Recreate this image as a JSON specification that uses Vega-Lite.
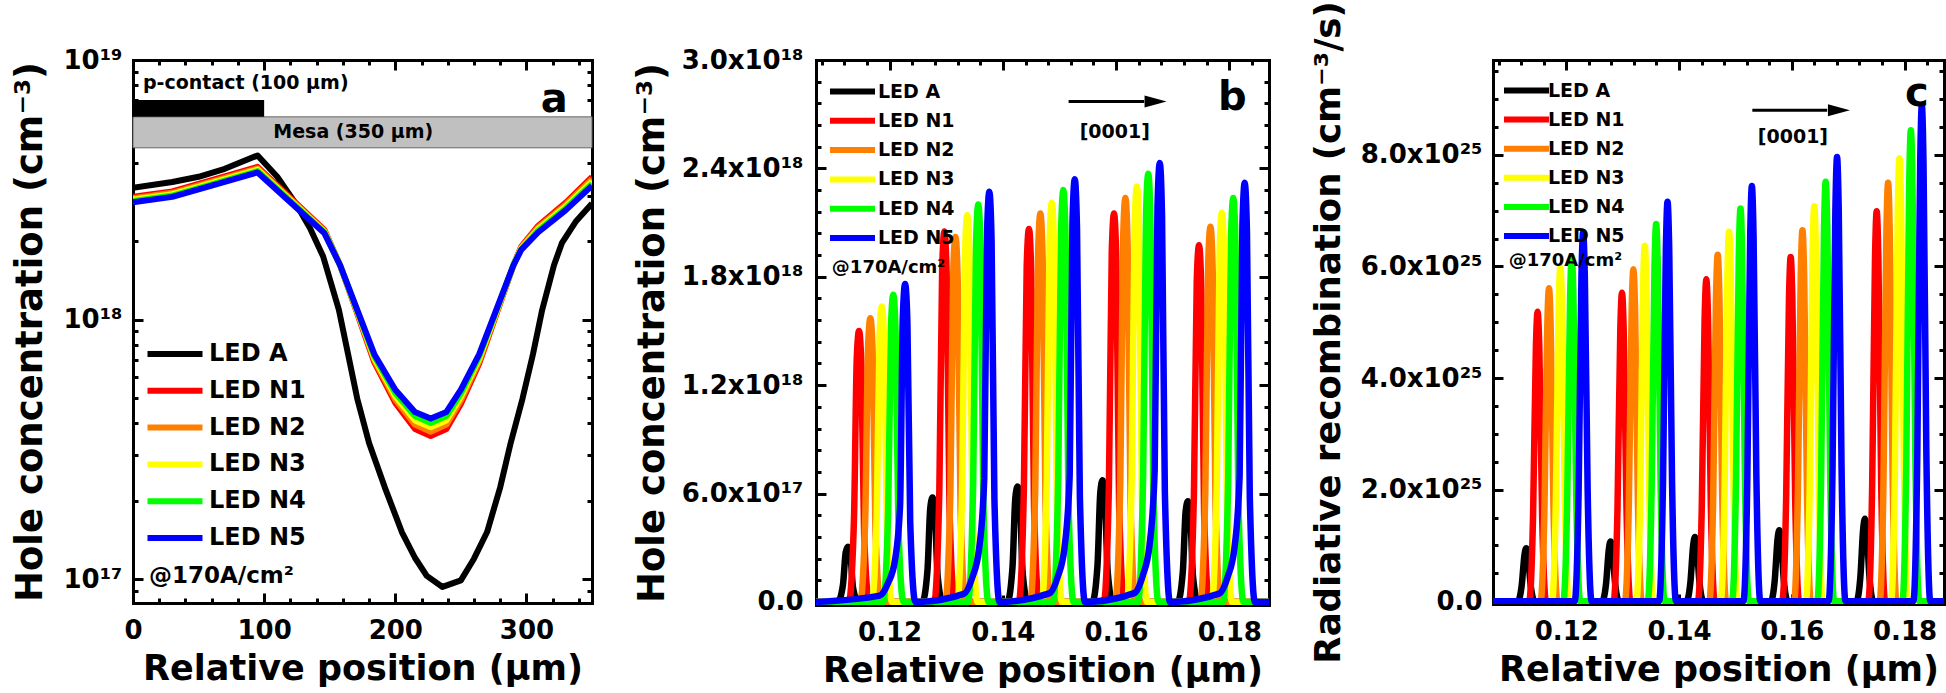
{
"$schema": "https://vega.github.io/schema/vega-lite/v6.json",
"padding": {"left": 10, "top": 0, "right": 0, "bottom": 0},
"background": "white",
"config": {
  "font": "DejaVu Sans",
  "view": {"stroke": null},
  "axis": {"grid": false, "domainColor": "black", "domainWidth": 3, "domainCap": "square", "tickColor": "black", "tickWidth": 3, "labelFont": "DejaVu Sans", "labelFontSize": 26, "labelFontWeight": "bold", "labelColor": "black", "titleFont": "DejaVu Sans", "titleFontWeight": "bold", "titleColor": "black", "labelOverlap": false, "labelFlush": false, "zindex": 1, "titleLimit": 1000},
  "legend": {"labelFont": "DejaVu Sans", "labelFontWeight": "bold", "labelColor": "black", "padding": 0, "symbolStrokeWidth": 6, "symbolType": "M-5,0H5", "orient": "none"}
},
"datasets": {
"a": [
{"s":"LED A","x":0,"y":3.22e18},{"s":"LED A","x":30,"y":3.39e18},{"s":"LED A","x":50,"y":3.55e18},{"s":"LED A","x":70,"y":3.81e18},{"s":"LED A","x":95,"y":4.29e18},{"s":"LED A","x":110,"y":3.55e18},{"s":"LED A","x":125,"y":2.75e18},{"s":"LED A","x":135,"y":2.25e18},{"s":"LED A","x":145,"y":1.75e18},{"s":"LED A","x":157,"y":1.09e18},{"s":"LED A","x":164,"y":7.36e17},{"s":"LED A","x":171,"y":4.96e17},{"s":"LED A","x":180,"y":3.35e17},{"s":"LED A","x":192,"y":2.26e17},{"s":"LED A","x":205,"y":1.52e17},{"s":"LED A","x":215,"y":1.21e17},{"s":"LED A","x":224,"y":1.03e17},{"s":"LED A","x":236,"y":9.34e16},{"s":"LED A","x":250,"y":9.9e16},{"s":"LED A","x":260,"y":1.2e17},{"s":"LED A","x":270,"y":1.52e17},{"s":"LED A","x":280,"y":2.26e17},{"s":"LED A","x":288,"y":3.35e17},{"s":"LED A","x":297,"y":4.96e17},{"s":"LED A","x":305,"y":7.36e17},{"s":"LED A","x":312,"y":1.09e18},{"s":"LED A","x":321,"y":1.62e18},{"s":"LED A","x":327,"y":1.97e18},{"s":"LED A","x":338,"y":2.4e18},{"s":"LED A","x":350,"y":2.8e18},
{"s":"LED N1","x":0,"y":2.972e18},{"s":"LED N1","x":30,"y":3.119e18},{"s":"LED N1","x":60,"y":3.444e18},{"s":"LED N1","x":95,"y":3.875e18},{"s":"LED N1","x":146,"y":2.215e18},{"s":"LED N1","x":158,"y":1.616e18},{"s":"LED N1","x":171,"y":1.057e18},{"s":"LED N1","x":184,"y":6.84e17},{"s":"LED N1","x":200,"y":4.78e17},{"s":"LED N1","x":215,"y":3.79e17},{"s":"LED N1","x":227,"y":3.56e17},{"s":"LED N1","x":239,"y":3.79e17},{"s":"LED N1","x":250,"y":4.73e17},{"s":"LED N1","x":264,"y":6.77e17},{"s":"LED N1","x":277,"y":1.046e18},{"s":"LED N1","x":290,"y":1.616e18},{"s":"LED N1","x":296,"y":1.911e18},{"s":"LED N1","x":309,"y":2.3e18},{"s":"LED N1","x":330,"y":2.825e18},{"s":"LED N1","x":350,"y":3.542e18},
{"s":"LED N2","x":0,"y":2.935e18},{"s":"LED N2","x":30,"y":3.08e18},{"s":"LED N2","x":60,"y":3.401e18},{"s":"LED N2","x":95,"y":3.827e18},{"s":"LED N2","x":146,"y":2.197e18},{"s":"LED N2","x":158,"y":1.616e18},{"s":"LED N2","x":171,"y":1.065e18},{"s":"LED N2","x":184,"y":6.97e17},{"s":"LED N2","x":200,"y":4.92e17},{"s":"LED N2","x":215,"y":3.94e17},{"s":"LED N2","x":227,"y":3.7e17},{"s":"LED N2","x":239,"y":3.94e17},{"s":"LED N2","x":250,"y":4.88e17},{"s":"LED N2","x":264,"y":6.91e17},{"s":"LED N2","x":277,"y":1.057e18},{"s":"LED N2","x":290,"y":1.616e18},{"s":"LED N2","x":296,"y":1.896e18},{"s":"LED N2","x":309,"y":2.268e18},{"s":"LED N2","x":330,"y":2.777e18},{"s":"LED N2","x":350,"y":3.474e18},
{"s":"LED N3","x":0,"y":2.901e18},{"s":"LED N3","x":30,"y":3.044e18},{"s":"LED N3","x":60,"y":3.362e18},{"s":"LED N3","x":95,"y":3.782e18},{"s":"LED N3","x":146,"y":2.182e18},{"s":"LED N3","x":158,"y":1.616e18},{"s":"LED N3","x":171,"y":1.074e18},{"s":"LED N3","x":184,"y":7.1e17},{"s":"LED N3","x":200,"y":5.06e17},{"s":"LED N3","x":215,"y":4.09e17},{"s":"LED N3","x":227,"y":3.85e17},{"s":"LED N3","x":239,"y":4.09e17},{"s":"LED N3","x":250,"y":5.04e17},{"s":"LED N3","x":264,"y":7.06e17},{"s":"LED N3","x":277,"y":1.068e18},{"s":"LED N3","x":290,"y":1.616e18},{"s":"LED N3","x":296,"y":1.883e18},{"s":"LED N3","x":309,"y":2.235e18},{"s":"LED N3","x":330,"y":2.73e18},{"s":"LED N3","x":350,"y":3.408e18},
{"s":"LED N4","x":0,"y":2.864e18},{"s":"LED N4","x":30,"y":3.006e18},{"s":"LED N4","x":60,"y":3.319e18},{"s":"LED N4","x":95,"y":3.734e18},{"s":"LED N4","x":146,"y":2.165e18},{"s":"LED N4","x":158,"y":1.616e18},{"s":"LED N4","x":171,"y":1.081e18},{"s":"LED N4","x":184,"y":7.23e17},{"s":"LED N4","x":200,"y":5.21e17},{"s":"LED N4","x":215,"y":4.25e17},{"s":"LED N4","x":227,"y":4.0e17},{"s":"LED N4","x":239,"y":4.25e17},{"s":"LED N4","x":250,"y":5.2e17},{"s":"LED N4","x":264,"y":7.21e17},{"s":"LED N4","x":277,"y":1.079e18},{"s":"LED N4","x":290,"y":1.616e18},{"s":"LED N4","x":296,"y":1.868e18},{"s":"LED N4","x":309,"y":2.203e18},{"s":"LED N4","x":330,"y":2.685e18},{"s":"LED N4","x":350,"y":3.342e18},
{"s":"LED N5","x":0,"y":2.83e18},{"s":"LED N5","x":30,"y":2.97e18},{"s":"LED N5","x":60,"y":3.28e18},{"s":"LED N5","x":95,"y":3.69e18},{"s":"LED N5","x":146,"y":2.15e18},{"s":"LED N5","x":158,"y":1.616e18},{"s":"LED N5","x":171,"y":1.09e18},{"s":"LED N5","x":184,"y":7.36e17},{"s":"LED N5","x":200,"y":5.37e17},{"s":"LED N5","x":215,"y":4.41e17},{"s":"LED N5","x":227,"y":4.16e17},{"s":"LED N5","x":239,"y":4.41e17},{"s":"LED N5","x":250,"y":5.37e17},{"s":"LED N5","x":264,"y":7.36e17},{"s":"LED N5","x":277,"y":1.09e18},{"s":"LED N5","x":290,"y":1.616e18},{"s":"LED N5","x":296,"y":1.855e18},{"s":"LED N5","x":309,"y":2.17e18},{"s":"LED N5","x":330,"y":2.64e18},{"s":"LED N5","x":350,"y":3.28e18}
],
"b": [
{"s":"LED A","x":0.107,"y":0},
{"s":"LED A","x":0.11085,"y":0},{"s":"LED A","x":0.11175,"y":0.092e18},{"s":"LED A","x":0.11225,"y":0.275e18},{"s":"LED A","x":0.11265,"y":0.306e18},{"s":"LED A","x":0.11305,"y":0.269e18},{"s":"LED A","x":0.11355,"y":0.077e18},{"s":"LED A","x":0.11445,"y":0},
{"s":"LED A","x":0.12578,"y":0},{"s":"LED A","x":0.12668,"y":0.173e18},{"s":"LED A","x":0.12718,"y":0.52e18},{"s":"LED A","x":0.12758,"y":0.578e18},{"s":"LED A","x":0.12798,"y":0.509e18},{"s":"LED A","x":0.12848,"y":0.145e18},{"s":"LED A","x":0.12938,"y":0},
{"s":"LED A","x":0.1408,"y":0},{"s":"LED A","x":0.1417,"y":0.192e18},{"s":"LED A","x":0.1422,"y":0.575e18},{"s":"LED A","x":0.1426,"y":0.639e18},{"s":"LED A","x":0.143,"y":0.562e18},{"s":"LED A","x":0.1435,"y":0.16e18},{"s":"LED A","x":0.1444,"y":0},
{"s":"LED A","x":0.15581,"y":0},{"s":"LED A","x":0.15671,"y":0.202e18},{"s":"LED A","x":0.15721,"y":0.607e18},{"s":"LED A","x":0.15761,"y":0.674e18},{"s":"LED A","x":0.15801,"y":0.593e18},{"s":"LED A","x":0.15851,"y":0.169e18},{"s":"LED A","x":0.15941,"y":0},
{"s":"LED A","x":0.17088,"y":0},{"s":"LED A","x":0.17178,"y":0.167e18},{"s":"LED A","x":0.17228,"y":0.502e18},{"s":"LED A","x":0.17268,"y":0.558e18},{"s":"LED A","x":0.17308,"y":0.491e18},{"s":"LED A","x":0.17358,"y":0.14e18},{"s":"LED A","x":0.17448,"y":0},
{"s":"LED A","x":0.187,"y":0},
{"s":"LED N1","x":0.107,"y":0},
{"s":"LED N1","x":0.1128,"y":0},{"s":"LED N1","x":0.1137,"y":0.45e18},{"s":"LED N1","x":0.1142,"y":1.35e18},{"s":"LED N1","x":0.1146,"y":1.5e18},{"s":"LED N1","x":0.115,"y":1.32e18},{"s":"LED N1","x":0.1155,"y":0.375e18},{"s":"LED N1","x":0.1164,"y":0},
{"s":"LED N1","x":0.12788,"y":0},{"s":"LED N1","x":0.12878,"y":0.615e18},{"s":"LED N1","x":0.12928,"y":1.845e18},{"s":"LED N1","x":0.12968,"y":2.05e18},{"s":"LED N1","x":0.13008,"y":1.804e18},{"s":"LED N1","x":0.13058,"y":0.513e18},{"s":"LED N1","x":0.13148,"y":0},
{"s":"LED N1","x":0.14281,"y":0},{"s":"LED N1","x":0.14371,"y":0.62e18},{"s":"LED N1","x":0.14421,"y":1.859e18},{"s":"LED N1","x":0.14461,"y":2.065e18},{"s":"LED N1","x":0.14501,"y":1.817e18},{"s":"LED N1","x":0.14551,"y":0.516e18},{"s":"LED N1","x":0.14641,"y":0},
{"s":"LED N1","x":0.15783,"y":0},{"s":"LED N1","x":0.15873,"y":0.645e18},{"s":"LED N1","x":0.15923,"y":1.935e18},{"s":"LED N1","x":0.15963,"y":2.15e18},{"s":"LED N1","x":0.16003,"y":1.892e18},{"s":"LED N1","x":0.16053,"y":0.538e18},{"s":"LED N1","x":0.16143,"y":0},
{"s":"LED N1","x":0.17284,"y":0},{"s":"LED N1","x":0.17374,"y":0.592e18},{"s":"LED N1","x":0.17424,"y":1.777e18},{"s":"LED N1","x":0.17464,"y":1.974e18},{"s":"LED N1","x":0.17504,"y":1.737e18},{"s":"LED N1","x":0.17554,"y":0.494e18},{"s":"LED N1","x":0.17644,"y":0},
{"s":"LED N1","x":0.187,"y":0},
{"s":"LED N2","x":0.107,"y":0},
{"s":"LED N2","x":0.1148,"y":0},{"s":"LED N2","x":0.1157,"y":0.471e18},{"s":"LED N2","x":0.1162,"y":1.413e18},{"s":"LED N2","x":0.1166,"y":1.57e18},{"s":"LED N2","x":0.117,"y":1.382e18},{"s":"LED N2","x":0.1175,"y":0.393e18},{"s":"LED N2","x":0.1184,"y":0},
{"s":"LED N2","x":0.12983,"y":0},{"s":"LED N2","x":0.13073,"y":0.606e18},{"s":"LED N2","x":0.13123,"y":1.818e18},{"s":"LED N2","x":0.13163,"y":2.02e18},{"s":"LED N2","x":0.13203,"y":1.778e18},{"s":"LED N2","x":0.13253,"y":0.505e18},{"s":"LED N2","x":0.13343,"y":0},
{"s":"LED N2","x":0.14483,"y":0},{"s":"LED N2","x":0.14573,"y":0.645e18},{"s":"LED N2","x":0.14623,"y":1.935e18},{"s":"LED N2","x":0.14663,"y":2.15e18},{"s":"LED N2","x":0.14703,"y":1.892e18},{"s":"LED N2","x":0.14753,"y":0.538e18},{"s":"LED N2","x":0.14843,"y":0},
{"s":"LED N2","x":0.15984,"y":0},{"s":"LED N2","x":0.16074,"y":0.671e18},{"s":"LED N2","x":0.16124,"y":2.012e18},{"s":"LED N2","x":0.16164,"y":2.236e18},{"s":"LED N2","x":0.16204,"y":1.968e18},{"s":"LED N2","x":0.16254,"y":0.559e18},{"s":"LED N2","x":0.16344,"y":0},
{"s":"LED N2","x":0.17486,"y":0},{"s":"LED N2","x":0.17576,"y":0.623e18},{"s":"LED N2","x":0.17626,"y":1.869e18},{"s":"LED N2","x":0.17666,"y":2.077e18},{"s":"LED N2","x":0.17706,"y":1.828e18},{"s":"LED N2","x":0.17756,"y":0.519e18},{"s":"LED N2","x":0.17846,"y":0},
{"s":"LED N2","x":0.187,"y":0},
{"s":"LED N3","x":0.107,"y":0},
{"s":"LED N3","x":0.11683,"y":0},{"s":"LED N3","x":0.11773,"y":0.491e18},{"s":"LED N3","x":0.11823,"y":1.472e18},{"s":"LED N3","x":0.11863,"y":1.636e18},{"s":"LED N3","x":0.11903,"y":1.44e18},{"s":"LED N3","x":0.11953,"y":0.409e18},{"s":"LED N3","x":0.12043,"y":0},
{"s":"LED N3","x":0.13192,"y":0},{"s":"LED N3","x":0.13282,"y":0.642e18},{"s":"LED N3","x":0.13332,"y":1.926e18},{"s":"LED N3","x":0.13372,"y":2.14e18},{"s":"LED N3","x":0.13412,"y":1.883e18},{"s":"LED N3","x":0.13462,"y":0.535e18},{"s":"LED N3","x":0.13552,"y":0},
{"s":"LED N3","x":0.14685,"y":0},{"s":"LED N3","x":0.14775,"y":0.663e18},{"s":"LED N3","x":0.14825,"y":1.989e18},{"s":"LED N3","x":0.14865,"y":2.21e18},{"s":"LED N3","x":0.14905,"y":1.945e18},{"s":"LED N3","x":0.14955,"y":0.553e18},{"s":"LED N3","x":0.15045,"y":0},
{"s":"LED N3","x":0.16186,"y":0},{"s":"LED N3","x":0.16276,"y":0.69e18},{"s":"LED N3","x":0.16326,"y":2.07e18},{"s":"LED N3","x":0.16366,"y":2.3e18},{"s":"LED N3","x":0.16406,"y":2.024e18},{"s":"LED N3","x":0.16456,"y":0.575e18},{"s":"LED N3","x":0.16546,"y":0},
{"s":"LED N3","x":0.17688,"y":0},{"s":"LED N3","x":0.17778,"y":0.647e18},{"s":"LED N3","x":0.17828,"y":1.94e18},{"s":"LED N3","x":0.17868,"y":2.155e18},{"s":"LED N3","x":0.17908,"y":1.896e18},{"s":"LED N3","x":0.17958,"y":0.539e18},{"s":"LED N3","x":0.18048,"y":0},
{"s":"LED N3","x":0.187,"y":0},
{"s":"LED N4","x":0.107,"y":0},
{"s":"LED N4","x":0.11885,"y":0},{"s":"LED N4","x":0.11975,"y":0.51e18},{"s":"LED N4","x":0.12025,"y":1.53e18},{"s":"LED N4","x":0.12065,"y":1.7e18},{"s":"LED N4","x":0.12105,"y":1.496e18},{"s":"LED N4","x":0.12155,"y":0.425e18},{"s":"LED N4","x":0.12245,"y":0},
{"s":"LED N4","x":0.13386,"y":0},{"s":"LED N4","x":0.13476,"y":0.66e18},{"s":"LED N4","x":0.13526,"y":1.98e18},{"s":"LED N4","x":0.13566,"y":2.2e18},{"s":"LED N4","x":0.13606,"y":1.936e18},{"s":"LED N4","x":0.13656,"y":0.55e18},{"s":"LED N4","x":0.13746,"y":0},
{"s":"LED N4","x":0.14888,"y":0},{"s":"LED N4","x":0.14978,"y":0.684e18},{"s":"LED N4","x":0.15028,"y":2.052e18},{"s":"LED N4","x":0.15068,"y":2.28e18},{"s":"LED N4","x":0.15108,"y":2.006e18},{"s":"LED N4","x":0.15158,"y":0.57e18},{"s":"LED N4","x":0.15248,"y":0},
{"s":"LED N4","x":0.16388,"y":0},{"s":"LED N4","x":0.16478,"y":0.711e18},{"s":"LED N4","x":0.16528,"y":2.133e18},{"s":"LED N4","x":0.16568,"y":2.37e18},{"s":"LED N4","x":0.16608,"y":2.086e18},{"s":"LED N4","x":0.16658,"y":0.593e18},{"s":"LED N4","x":0.16748,"y":0},
{"s":"LED N4","x":0.17889,"y":0},{"s":"LED N4","x":0.17979,"y":0.671e18},{"s":"LED N4","x":0.18029,"y":2.012e18},{"s":"LED N4","x":0.18069,"y":2.236e18},{"s":"LED N4","x":0.18109,"y":1.968e18},{"s":"LED N4","x":0.18159,"y":0.559e18},{"s":"LED N4","x":0.18249,"y":0},
{"s":"LED N4","x":0.187,"y":0},
{"s":"LED N5","x":0.107,"y":0},
{"s":"LED N5","x":0.11824,"y":0.035e18},{"s":"LED N5","x":0.11974,"y":0.106e18},{"s":"LED N5","x":0.12094,"y":0.229e18},{"s":"LED N5","x":0.12184,"y":0.528e18},{"s":"LED N5","x":0.12234,"y":1.584e18},{"s":"LED N5","x":0.12274,"y":1.76e18},{"s":"LED N5","x":0.12314,"y":1.549e18},{"s":"LED N5","x":0.12364,"y":0.44e18},{"s":"LED N5","x":0.12454,"y":0},
{"s":"LED N5","x":0.13311,"y":0.045e18},{"s":"LED N5","x":0.13461,"y":0.136e18},{"s":"LED N5","x":0.13581,"y":0.295e18},{"s":"LED N5","x":0.13671,"y":0.681e18},{"s":"LED N5","x":0.13721,"y":2.043e18},{"s":"LED N5","x":0.13761,"y":2.27e18},{"s":"LED N5","x":0.13801,"y":1.998e18},{"s":"LED N5","x":0.13851,"y":0.568e18},{"s":"LED N5","x":0.13941,"y":0},
{"s":"LED N5","x":0.1482,"y":0.047e18},{"s":"LED N5","x":0.1497,"y":0.14e18},{"s":"LED N5","x":0.1509,"y":0.304e18},{"s":"LED N5","x":0.1518,"y":0.702e18},{"s":"LED N5","x":0.1523,"y":2.106e18},{"s":"LED N5","x":0.1527,"y":2.34e18},{"s":"LED N5","x":0.1531,"y":2.059e18},{"s":"LED N5","x":0.1536,"y":0.585e18},{"s":"LED N5","x":0.1545,"y":0},
{"s":"LED N5","x":0.16321,"y":0.049e18},{"s":"LED N5","x":0.16471,"y":0.146e18},{"s":"LED N5","x":0.16591,"y":0.316e18},{"s":"LED N5","x":0.16681,"y":0.729e18},{"s":"LED N5","x":0.16731,"y":2.187e18},{"s":"LED N5","x":0.16771,"y":2.43e18},{"s":"LED N5","x":0.16811,"y":2.138e18},{"s":"LED N5","x":0.16861,"y":0.608e18},{"s":"LED N5","x":0.16951,"y":0},
{"s":"LED N5","x":0.17821,"y":0.046e18},{"s":"LED N5","x":0.17971,"y":0.139e18},{"s":"LED N5","x":0.18091,"y":0.302e18},{"s":"LED N5","x":0.18181,"y":0.696e18},{"s":"LED N5","x":0.18231,"y":2.088e18},{"s":"LED N5","x":0.18271,"y":2.32e18},{"s":"LED N5","x":0.18311,"y":2.042e18},{"s":"LED N5","x":0.18361,"y":0.58e18},{"s":"LED N5","x":0.18451,"y":0},
{"s":"LED N5","x":0.187,"y":0}
],
"c": [
{"s":"LED A","x":0.107,"y":0},
{"s":"LED A","x":0.11139,"y":0},{"s":"LED A","x":0.11209,"y":0.284e25},{"s":"LED A","x":0.11259,"y":0.834e25},{"s":"LED A","x":0.11289,"y":0.948e25},{"s":"LED A","x":0.11319,"y":0.834e25},{"s":"LED A","x":0.11369,"y":0.284e25},{"s":"LED A","x":0.11439,"y":0},
{"s":"LED A","x":0.12636,"y":0},{"s":"LED A","x":0.12706,"y":0.321e25},{"s":"LED A","x":0.12756,"y":0.942e25},{"s":"LED A","x":0.12786,"y":1.07e25},{"s":"LED A","x":0.12816,"y":0.942e25},{"s":"LED A","x":0.12866,"y":0.321e25},{"s":"LED A","x":0.12936,"y":0},
{"s":"LED A","x":0.14132,"y":0},{"s":"LED A","x":0.14202,"y":0.345e25},{"s":"LED A","x":0.14252,"y":1.012e25},{"s":"LED A","x":0.14282,"y":1.15e25},{"s":"LED A","x":0.14312,"y":1.012e25},{"s":"LED A","x":0.14362,"y":0.345e25},{"s":"LED A","x":0.14432,"y":0},
{"s":"LED A","x":0.15628,"y":0},{"s":"LED A","x":0.15698,"y":0.381e25},{"s":"LED A","x":0.15748,"y":1.118e25},{"s":"LED A","x":0.15778,"y":1.27e25},{"s":"LED A","x":0.15808,"y":1.118e25},{"s":"LED A","x":0.15858,"y":0.381e25},{"s":"LED A","x":0.15928,"y":0},
{"s":"LED A","x":0.17147,"y":0},{"s":"LED A","x":0.17217,"y":0.444e25},{"s":"LED A","x":0.17267,"y":1.302e25},{"s":"LED A","x":0.17297,"y":1.48e25},{"s":"LED A","x":0.17327,"y":1.302e25},{"s":"LED A","x":0.17377,"y":0.444e25},{"s":"LED A","x":0.17447,"y":0},
{"s":"LED A","x":0.187,"y":0},
{"s":"LED N1","x":0.107,"y":0},
{"s":"LED N1","x":0.11341,"y":0},{"s":"LED N1","x":0.11411,"y":1.557e25},{"s":"LED N1","x":0.11461,"y":4.567e25},{"s":"LED N1","x":0.11491,"y":5.19e25},{"s":"LED N1","x":0.11521,"y":4.567e25},{"s":"LED N1","x":0.11571,"y":1.557e25},{"s":"LED N1","x":0.11641,"y":0},
{"s":"LED N1","x":0.12838,"y":0},{"s":"LED N1","x":0.12908,"y":1.659e25},{"s":"LED N1","x":0.12958,"y":4.866e25},{"s":"LED N1","x":0.12988,"y":5.53e25},{"s":"LED N1","x":0.13018,"y":4.866e25},{"s":"LED N1","x":0.13068,"y":1.659e25},{"s":"LED N1","x":0.13138,"y":0},
{"s":"LED N1","x":0.14334,"y":0},{"s":"LED N1","x":0.14404,"y":1.731e25},{"s":"LED N1","x":0.14454,"y":5.078e25},{"s":"LED N1","x":0.14484,"y":5.77e25},{"s":"LED N1","x":0.14514,"y":5.078e25},{"s":"LED N1","x":0.14564,"y":1.731e25},{"s":"LED N1","x":0.14634,"y":0},
{"s":"LED N1","x":0.1583,"y":0},{"s":"LED N1","x":0.159,"y":1.851e25},{"s":"LED N1","x":0.1595,"y":5.43e25},{"s":"LED N1","x":0.1598,"y":6.17e25},{"s":"LED N1","x":0.1601,"y":5.43e25},{"s":"LED N1","x":0.1606,"y":1.851e25},{"s":"LED N1","x":0.1613,"y":0},
{"s":"LED N1","x":0.17356,"y":0},{"s":"LED N1","x":0.17426,"y":2.097e25},{"s":"LED N1","x":0.17476,"y":6.151e25},{"s":"LED N1","x":0.17506,"y":6.99e25},{"s":"LED N1","x":0.17536,"y":6.151e25},{"s":"LED N1","x":0.17586,"y":2.097e25},{"s":"LED N1","x":0.17656,"y":0},
{"s":"LED N1","x":0.187,"y":0},
{"s":"LED N2","x":0.107,"y":0},
{"s":"LED N2","x":0.11543,"y":0},{"s":"LED N2","x":0.11613,"y":1.683e25},{"s":"LED N2","x":0.11663,"y":4.937e25},{"s":"LED N2","x":0.11693,"y":5.61e25},{"s":"LED N2","x":0.11723,"y":4.937e25},{"s":"LED N2","x":0.11773,"y":1.683e25},{"s":"LED N2","x":0.11843,"y":0},
{"s":"LED N2","x":0.1304,"y":0},{"s":"LED N2","x":0.1311,"y":1.785e25},{"s":"LED N2","x":0.1316,"y":5.236e25},{"s":"LED N2","x":0.1319,"y":5.95e25},{"s":"LED N2","x":0.1322,"y":5.236e25},{"s":"LED N2","x":0.1327,"y":1.785e25},{"s":"LED N2","x":0.1334,"y":0},
{"s":"LED N2","x":0.14536,"y":0},{"s":"LED N2","x":0.14606,"y":1.863e25},{"s":"LED N2","x":0.14656,"y":5.465e25},{"s":"LED N2","x":0.14686,"y":6.21e25},{"s":"LED N2","x":0.14716,"y":5.465e25},{"s":"LED N2","x":0.14766,"y":1.863e25},{"s":"LED N2","x":0.14836,"y":0},
{"s":"LED N2","x":0.16039,"y":0},{"s":"LED N2","x":0.16109,"y":1.995e25},{"s":"LED N2","x":0.16159,"y":5.852e25},{"s":"LED N2","x":0.16189,"y":6.65e25},{"s":"LED N2","x":0.16219,"y":5.852e25},{"s":"LED N2","x":0.16269,"y":1.995e25},{"s":"LED N2","x":0.16339,"y":0},
{"s":"LED N2","x":0.17558,"y":0},{"s":"LED N2","x":0.17628,"y":2.25e25},{"s":"LED N2","x":0.17678,"y":6.6e25},{"s":"LED N2","x":0.17708,"y":7.5e25},{"s":"LED N2","x":0.17738,"y":6.6e25},{"s":"LED N2","x":0.17788,"y":2.25e25},{"s":"LED N2","x":0.17858,"y":0},
{"s":"LED N2","x":0.187,"y":0},
{"s":"LED N3","x":0.107,"y":0},
{"s":"LED N3","x":0.11745,"y":0},{"s":"LED N3","x":0.11815,"y":1.797e25},{"s":"LED N3","x":0.11865,"y":5.271e25},{"s":"LED N3","x":0.11895,"y":5.99e25},{"s":"LED N3","x":0.11925,"y":5.271e25},{"s":"LED N3","x":0.11975,"y":1.797e25},{"s":"LED N3","x":0.12045,"y":0},
{"s":"LED N3","x":0.13242,"y":0},{"s":"LED N3","x":0.13312,"y":1.911e25},{"s":"LED N3","x":0.13362,"y":5.606e25},{"s":"LED N3","x":0.13392,"y":6.37e25},{"s":"LED N3","x":0.13422,"y":5.606e25},{"s":"LED N3","x":0.13472,"y":1.911e25},{"s":"LED N3","x":0.13542,"y":0},
{"s":"LED N3","x":0.14738,"y":0},{"s":"LED N3","x":0.14808,"y":1.986e25},{"s":"LED N3","x":0.14858,"y":5.826e25},{"s":"LED N3","x":0.14888,"y":6.62e25},{"s":"LED N3","x":0.14918,"y":5.826e25},{"s":"LED N3","x":0.14968,"y":1.986e25},{"s":"LED N3","x":0.15038,"y":0},
{"s":"LED N3","x":0.16249,"y":0},{"s":"LED N3","x":0.16319,"y":2.124e25},{"s":"LED N3","x":0.16369,"y":6.23e25},{"s":"LED N3","x":0.16399,"y":7.08e25},{"s":"LED N3","x":0.16429,"y":6.23e25},{"s":"LED N3","x":0.16479,"y":2.124e25},{"s":"LED N3","x":0.16549,"y":0},
{"s":"LED N3","x":0.1776,"y":0},{"s":"LED N3","x":0.1783,"y":2.382e25},{"s":"LED N3","x":0.1788,"y":6.987e25},{"s":"LED N3","x":0.1791,"y":7.94e25},{"s":"LED N3","x":0.1794,"y":6.987e25},{"s":"LED N3","x":0.1799,"y":2.382e25},{"s":"LED N3","x":0.1806,"y":0},
{"s":"LED N3","x":0.187,"y":0},
{"s":"LED N4","x":0.107,"y":0},
{"s":"LED N4","x":0.11947,"y":0},{"s":"LED N4","x":0.12017,"y":1.851e25},{"s":"LED N4","x":0.12067,"y":5.43e25},{"s":"LED N4","x":0.12097,"y":6.17e25},{"s":"LED N4","x":0.12127,"y":5.43e25},{"s":"LED N4","x":0.12177,"y":1.851e25},{"s":"LED N4","x":0.12247,"y":0},
{"s":"LED N4","x":0.13444,"y":0},{"s":"LED N4","x":0.13514,"y":2.028e25},{"s":"LED N4","x":0.13564,"y":5.949e25},{"s":"LED N4","x":0.13594,"y":6.76e25},{"s":"LED N4","x":0.13624,"y":5.949e25},{"s":"LED N4","x":0.13674,"y":2.028e25},{"s":"LED N4","x":0.13744,"y":0},
{"s":"LED N4","x":0.1494,"y":0},{"s":"LED N4","x":0.1501,"y":2.112e25},{"s":"LED N4","x":0.1506,"y":6.195e25},{"s":"LED N4","x":0.1509,"y":7.04e25},{"s":"LED N4","x":0.1512,"y":6.195e25},{"s":"LED N4","x":0.1517,"y":2.112e25},{"s":"LED N4","x":0.1524,"y":0},
{"s":"LED N4","x":0.16451,"y":0},{"s":"LED N4","x":0.16521,"y":2.256e25},{"s":"LED N4","x":0.16571,"y":6.618e25},{"s":"LED N4","x":0.16601,"y":7.52e25},{"s":"LED N4","x":0.16631,"y":6.618e25},{"s":"LED N4","x":0.16681,"y":2.256e25},{"s":"LED N4","x":0.16751,"y":0},
{"s":"LED N4","x":0.17962,"y":0},{"s":"LED N4","x":0.18032,"y":2.532e25},{"s":"LED N4","x":0.18082,"y":7.427e25},{"s":"LED N4","x":0.18112,"y":8.44e25},{"s":"LED N4","x":0.18142,"y":7.427e25},{"s":"LED N4","x":0.18192,"y":2.532e25},{"s":"LED N4","x":0.18262,"y":0},
{"s":"LED N4","x":0.187,"y":0},
{"s":"LED N5","x":0.107,"y":0},
{"s":"LED N5","x":0.12149,"y":0},{"s":"LED N5","x":0.12219,"y":1.983e25},{"s":"LED N5","x":0.12269,"y":5.817e25},{"s":"LED N5","x":0.12299,"y":6.61e25},{"s":"LED N5","x":0.12329,"y":5.817e25},{"s":"LED N5","x":0.12379,"y":1.983e25},{"s":"LED N5","x":0.12449,"y":0},
{"s":"LED N5","x":0.13646,"y":0},{"s":"LED N5","x":0.13716,"y":2.148e25},{"s":"LED N5","x":0.13766,"y":6.301e25},{"s":"LED N5","x":0.13796,"y":7.16e25},{"s":"LED N5","x":0.13826,"y":6.301e25},{"s":"LED N5","x":0.13876,"y":2.148e25},{"s":"LED N5","x":0.13946,"y":0},
{"s":"LED N5","x":0.15142,"y":0},{"s":"LED N5","x":0.15212,"y":2.232e25},{"s":"LED N5","x":0.15262,"y":6.547e25},{"s":"LED N5","x":0.15292,"y":7.44e25},{"s":"LED N5","x":0.15322,"y":6.547e25},{"s":"LED N5","x":0.15372,"y":2.232e25},{"s":"LED N5","x":0.15442,"y":0},
{"s":"LED N5","x":0.16653,"y":0},{"s":"LED N5","x":0.16723,"y":2.388e25},{"s":"LED N5","x":0.16773,"y":7.005e25},{"s":"LED N5","x":0.16803,"y":7.96e25},{"s":"LED N5","x":0.16833,"y":7.005e25},{"s":"LED N5","x":0.16883,"y":2.388e25},{"s":"LED N5","x":0.16953,"y":0},
{"s":"LED N5","x":0.18157,"y":0},{"s":"LED N5","x":0.18227,"y":2.667e25},{"s":"LED N5","x":0.18277,"y":7.823e25},{"s":"LED N5","x":0.18307,"y":8.89e25},{"s":"LED N5","x":0.18337,"y":7.823e25},{"s":"LED N5","x":0.18387,"y":2.667e25},{"s":"LED N5","x":0.18457,"y":0},
{"s":"LED N5","x":0.187,"y":0}
]
},
"spacing": 224,
"bounds": "flush",
"resolve": {"scale": {"x": "independent", "y": "independent", "color": "independent"}, "legend": {"color": "independent"}},
"hconcat": [
{
 "width": 459, "height": 543,
 "layer": [
  {"data": {"values": [{"x": 0, "x2": 350, "y": 4.59e18, "y2": 6.04e18}]},
   "mark": {"type": "rect", "fill": "#c0c0c0", "stroke": "#666666", "strokeWidth": 1},
   "encoding": {"x": {"field": "x", "type": "quantitative", "scale": {"domain": [0, 350]}, "axis": null}, "x2": {"field": "x2"},
     "y": {"field": "y", "type": "quantitative", "scale": {"type": "log", "domain": [8.1e16, 1e19]}, "axis": null}, "y2": {"field": "y2"}}},
  {"data": {"values": [{"x": 0, "x2": 100, "y": 6.04e18, "y2": 7.02e18}]},
   "mark": {"type": "rect", "fill": "black"},
   "encoding": {"x": {"field": "x", "type": "quantitative", "scale": {"domain": [0, 350]}, "axis": null}, "x2": {"field": "x2"},
     "y": {"field": "y", "type": "quantitative", "scale": {"type": "log", "domain": [8.1e16, 1e19]}, "axis": null}, "y2": {"field": "y2"}}},
  {"data": {"name": "a"},
   "mark": {"type": "line", "strokeWidth": 6, "clip": true, "strokeJoin": "round"},
   "encoding": {
     "x": {"field": "x", "type": "quantitative", "scale": {"domain": [0, 350]},
       "axis": {"orient": "bottom", "values": [0,20,40,60,80,100,120,140,160,180,200,220,240,260,280,300,320,340], "labelExpr": "datum.value % 100 === 0 ? datum.label : ''", "tickSize": {"condition": {"test": "datum.value % 100 === 0", "value": -10}, "value": -5}, "labelPadding": 24, "title": "Relative position (μm)", "titleFontSize": 35, "minExtent": 40, "maxExtent": 40, "titlePadding": 8}},
     "y": {"field": "y", "type": "quantitative", "scale": {"type": "log", "domain": [8.1e16, 1e19]},
       "axis": {"orient": "left", "values": [9e16,1e17,2e17,3e17,4e17,5e17,6e17,7e17,8e17,9e17,1e18,2e18,3e18,4e18,5e18,6e18,7e18,8e18,9e18,1e19], "labelExpr": "abs(log(datum.value)/LN10 - round(log(datum.value)/LN10)) < 0.01 ? ('10' + (round(log(datum.value)/LN10) == 17 ? '¹⁷' : round(log(datum.value)/LN10) == 18 ? '¹⁸' : '¹⁹')) : ''", "tickSize": {"condition": {"test": "abs(log(datum.value)/LN10 - round(log(datum.value)/LN10)) < 0.01", "value": -10}, "value": -5}, "labelPadding": 21, "title": "Hole concentration (cm⁻³)", "titleFontSize": 37, "minExtent": 70, "maxExtent": 70, "titlePadding": 14}},
     "color": {"field": "s", "type": "nominal", "scale": {"domain": ["LED A","LED N1","LED N2","LED N3","LED N4","LED N5"], "range": ["#000000","#ff0000","#ff8000","#ffff00","#00ff00","#0000ff"]},
       "legend": {"orient": "none", "legendX": 16, "legendY": 282, "title": null, "symbolType": "M-5,0H5", "symbolSize": 121, "symbolStrokeWidth": 6, "symbolOffset": 14, "labelOffset": 22, "labelFontSize": 24, "rowPadding": 12.8}}}},
  {"data": {"values": [{"x": 7.6, "y": 8.13e18, "t": "p-contact (100 μm)"}, {"x": 107, "y": 5.28e18, "t": "Mesa (350 μm)"}]},
   "mark": {"type": "text", "align": "left", "baseline": "middle", "fontSize": 19, "fontWeight": "bold", "font": "DejaVu Sans", "color": "black"},
   "encoding": {"x": {"field": "x", "type": "quantitative", "scale": {"domain": [0, 350]}, "axis": null}, "y": {"field": "y", "type": "quantitative", "scale": {"type": "log", "domain": [8.1e16, 1e19]}, "axis": null}, "text": {"field": "t"}}},
  {"data": {"values": [{"x": 311, "y": 7.02e18, "t": "a"}]},
   "mark": {"type": "text", "align": "left", "baseline": "middle", "fontSize": 40, "fontWeight": "bold", "font": "DejaVu Sans", "color": "black"},
   "encoding": {"x": {"field": "x", "type": "quantitative", "scale": {"domain": [0, 350]}, "axis": null}, "y": {"field": "y", "type": "quantitative", "scale": {"type": "log", "domain": [8.1e16, 1e19]}, "axis": null}, "text": {"field": "t"}}},
  {"data": {"values": [{"x": 12.2, "y": 1.03e17, "t": "@170A/cm²"}]},
   "mark": {"type": "text", "align": "left", "baseline": "middle", "fontSize": 23, "fontWeight": "bold", "font": "DejaVu Sans", "color": "black"},
   "encoding": {"x": {"field": "x", "type": "quantitative", "scale": {"domain": [0, 350]}, "axis": null}, "y": {"field": "y", "type": "quantitative", "scale": {"type": "log", "domain": [8.1e16, 1e19]}, "axis": null}, "text": {"field": "t"}}},
  {"data": {"values": [{"x": 100, "y": 1e18}]},
   "mark": {"type": "point", "opacity": 0},
   "encoding": {
     "x": {"field": "x", "type": "quantitative", "scale": {"domain": [0, 350]},
       "axis": {"orient": "top", "values": [0,20,40,60,80,100,120,140,160,180,200,220,240,260,280,300,320,340], "labels": false, "tickSize": {"condition": {"test": "datum.value % 100 === 0", "value": -10}, "value": -5}, "title": null}},
     "y": {"field": "y", "type": "quantitative", "scale": {"type": "log", "domain": [8.1e16, 1e19]},
       "axis": {"orient": "right", "values": [9e16,1e17,2e17,3e17,4e17,5e17,6e17,7e17,8e17,9e17,1e18,2e18,3e18,4e18,5e18,6e18,7e18,8e18,9e18,1e19], "labels": false, "tickSize": {"condition": {"test": "abs(log(datum.value)/LN10 - round(log(datum.value)/LN10)) < 0.01", "value": -10}, "value": -5}, "title": null}}}}
 ],
 "resolve": {"axis": {"x": "independent", "y": "independent"}}
},
{
 "width": 453, "height": 545,
 "layer": [
  {"data": {"name": "b"},
   "mark": {"type": "line", "strokeWidth": 6.5, "clip": true, "strokeJoin": "round", "interpolate": "monotone"},
   "encoding": {
     "x": {"field": "x", "type": "quantitative", "scale": {"domain": [0.107, 0.187]},
       "axis": {"orient": "bottom", "values": [0.108,0.112,0.116,0.12,0.124,0.128,0.132,0.136,0.14,0.144,0.148,0.152,0.156,0.16,0.164,0.168,0.172,0.176,0.18,0.184], "labelExpr": "abs(datum.value*50 - round(datum.value*50)) < 0.01 ? format(datum.value, '.2f') : ''", "tickSize": {"condition": {"test": "abs(datum.value*50 - round(datum.value*50)) < 0.01", "value": -10}, "value": -5}, "labelPadding": 24, "title": "Relative position (μm)", "titleFontSize": 35, "minExtent": 40, "maxExtent": 40, "titlePadding": 8}},
     "y": {"field": "y", "type": "quantitative", "scale": {"domain": [-1.7e16, 3e18]},
       "axis": {"orient": "left", "values": [0,1.2e17,2.4e17,3.6e17,4.8e17,6e17,7.2e17,8.4e17,9.6e17,1.08e18,1.2e18,1.32e18,1.44e18,1.56e18,1.68e18,1.8e18,1.92e18,2.04e18,2.16e18,2.28e18,2.4e18,2.52e18,2.64e18,2.76e18,2.88e18,3e18], "labelExpr": "abs(datum.value/6e17 - round(datum.value/6e17)) < 0.01 ? (datum.value < 1e17 ? '0.0' : datum.value < 1e18 ? format(datum.value/1e17, '.1f') + 'x10¹⁷' : format(datum.value/1e18, '.1f') + 'x10¹⁸') : ''", "tickSize": {"condition": {"test": "abs(datum.value/6e17 - round(datum.value/6e17)) < 0.01", "value": -10}, "value": -5}, "labelPadding": 23, "title": "Hole concentration (cm⁻³)", "titleFontSize": 37, "minExtent": 130, "maxExtent": 130, "titlePadding": 15}},
     "color": {"field": "s", "type": "nominal", "scale": {"domain": ["LED A","LED N1","LED N2","LED N3","LED N4","LED N5"], "range": ["#000000","#ff0000","#ff8000","#ffff00","#00ff00","#0000ff"]},
       "legend": {"orient": "none", "legendX": 15, "legendY": 22, "title": null, "symbolType": "M-5,0H5", "symbolSize": 81, "symbolStrokeWidth": 6, "symbolOffset": 12, "labelOffset": 16, "labelFontSize": 19, "rowPadding": 4.3}}}},
  {"data": {"values": [{"x": 0.15161, "x2": 0.16496, "y": 2.77e18}]},
   "mark": {"type": "rule", "strokeWidth": 3, "color": "black"},
   "encoding": {"x": {"field": "x", "type": "quantitative", "scale": {"domain": [0.107, 0.187]}, "axis": null}, "x2": {"field": "x2"}, "y": {"field": "y", "type": "quantitative", "scale": {"domain": [-1.7e16, 3e18]}, "axis": null}}},
  {"data": {"values": [{"x": 0.16697, "y": 2.77e18}]},
   "mark": {"type": "point", "shape": "M-1,-0.55L1,0L-1,0.55Z", "size": 484, "filled": true, "color": "black", "opacity": 1},
   "encoding": {"x": {"field": "x", "type": "quantitative", "scale": {"domain": [0.107, 0.187]}, "axis": null}, "y": {"field": "y", "type": "quantitative", "scale": {"domain": [-1.7e16, 3e18]}, "axis": null}}},
  {"data": {"values": [{"x": 0.1098, "y": 1.85e18, "t": "@170A/cm²"}]},
   "mark": {"type": "text", "align": "left", "baseline": "middle", "fontSize": 18, "fontWeight": "bold", "font": "DejaVu Sans", "color": "black"},
   "encoding": {"x": {"field": "x", "type": "quantitative", "scale": {"domain": [0.107, 0.187]}, "axis": null}, "y": {"field": "y", "type": "quantitative", "scale": {"domain": [-1.7e16, 3e18]}, "axis": null}, "text": {"field": "t"}}},
  {"data": {"values": [{"x": 0.15356, "y": 2.6e18, "t": "[0001]"}]},
   "mark": {"type": "text", "align": "left", "baseline": "middle", "fontSize": 19, "fontWeight": "bold", "font": "DejaVu Sans", "color": "black"},
   "encoding": {"x": {"field": "x", "type": "quantitative", "scale": {"domain": [0.107, 0.187]}, "axis": null}, "y": {"field": "y", "type": "quantitative", "scale": {"domain": [-1.7e16, 3e18]}, "axis": null}, "text": {"field": "t"}}},
  {"data": {"values": [{"x": 0.17798, "y": 2.79e18, "t": "b"}]},
   "mark": {"type": "text", "align": "left", "baseline": "middle", "fontSize": 40, "fontWeight": "bold", "font": "DejaVu Sans", "color": "black"},
   "encoding": {"x": {"field": "x", "type": "quantitative", "scale": {"domain": [0.107, 0.187]}, "axis": null}, "y": {"field": "y", "type": "quantitative", "scale": {"domain": [-1.7e16, 3e18]}, "axis": null}, "text": {"field": "t"}}},
  {"data": {"values": [{"x": 0.15, "y": 1e18}]},
   "mark": {"type": "point", "opacity": 0},
   "encoding": {
     "x": {"field": "x", "type": "quantitative", "scale": {"domain": [0.107, 0.187]},
       "axis": {"orient": "top", "values": [0.108,0.112,0.116,0.12,0.124,0.128,0.132,0.136,0.14,0.144,0.148,0.152,0.156,0.16,0.164,0.168,0.172,0.176,0.18,0.184], "labels": false, "tickSize": {"condition": {"test": "abs(datum.value*50 - round(datum.value*50)) < 0.01", "value": -10}, "value": -5}, "title": null}},
     "y": {"field": "y", "type": "quantitative", "scale": {"domain": [-1.7e16, 3e18]},
       "axis": {"orient": "right", "values": [0,1.2e17,2.4e17,3.6e17,4.8e17,6e17,7.2e17,8.4e17,9.6e17,1.08e18,1.2e18,1.32e18,1.44e18,1.56e18,1.68e18,1.8e18,1.92e18,2.04e18,2.16e18,2.28e18,2.4e18,2.52e18,2.64e18,2.76e18,2.88e18,3e18], "labels": false, "tickSize": {"condition": {"test": "abs(datum.value/6e17 - round(datum.value/6e17)) < 0.01", "value": -10}, "value": -5}, "title": null}}}}
 ],
 "resolve": {"axis": {"x": "independent", "y": "independent"}}
},
{
 "width": 451, "height": 544,
 "layer": [
  {"data": {"name": "c"},
   "mark": {"type": "line", "strokeWidth": 6.5, "clip": true, "strokeJoin": "round", "interpolate": "monotone"},
   "encoding": {
     "x": {"field": "x", "type": "quantitative", "scale": {"domain": [0.107, 0.187]},
       "axis": {"orient": "bottom", "values": [0.108,0.112,0.116,0.12,0.124,0.128,0.132,0.136,0.14,0.144,0.148,0.152,0.156,0.16,0.164,0.168,0.172,0.176,0.18,0.184], "labelExpr": "abs(datum.value*50 - round(datum.value*50)) < 0.01 ? format(datum.value, '.2f') : ''", "tickSize": {"condition": {"test": "abs(datum.value*50 - round(datum.value*50)) < 0.01", "value": -10}, "value": -5}, "labelPadding": 24, "title": "Relative position (μm)", "titleFontSize": 35, "minExtent": 40, "maxExtent": 40, "titlePadding": 8}},
     "y": {"field": "y", "type": "quantitative", "scale": {"domain": [-5e23, 9.7e25]},
       "axis": {"orient": "left", "values": [0,5e24,1e25,1.5e25,2e25,2.5e25,3e25,3.5e25,4e25,4.5e25,5e25,5.5e25,6e25,6.5e25,7e25,7.5e25,8e25,8.5e25,9e25,9.5e25], "labelExpr": "abs(datum.value/2e25 - round(datum.value/2e25)) < 0.01 ? (datum.value < 1e24 ? '0.0' : format(datum.value/1e25, '.1f') + 'x10²⁵') : ''", "tickSize": {"condition": {"test": "abs(datum.value/2e25 - round(datum.value/2e25)) < 0.01", "value": -10}, "value": -5}, "labelPadding": 21, "title": "Radiative recombination (cm⁻³/s)", "titleFontSize": 35.5, "minExtent": 130, "maxExtent": 130, "titlePadding": 17}},
     "color": {"field": "s", "type": "nominal", "scale": {"domain": ["LED A","LED N1","LED N2","LED N3","LED N4","LED N5"], "range": ["#000000","#ff0000","#ff8000","#ffff00","#00ff00","#0000ff"]},
       "legend": {"orient": "none", "legendX": 16, "legendY": 21, "title": null, "symbolType": "M-5,0H5", "symbolSize": 81, "symbolStrokeWidth": 6, "symbolOffset": 8, "labelOffset": 12, "labelFontSize": 19, "rowPadding": 4.1}}}},
  {"data": {"values": [{"x": 0.153, "x2": 0.16628, "y": 8.8e25}]},
   "mark": {"type": "rule", "strokeWidth": 3, "color": "black"},
   "encoding": {"x": {"field": "x", "type": "quantitative", "scale": {"domain": [0.107, 0.187]}, "axis": null}, "x2": {"field": "x2"}, "y": {"field": "y", "type": "quantitative", "scale": {"domain": [-5e23, 9.7e25]}, "axis": null}}},
  {"data": {"values": [{"x": 0.16836, "y": 8.8e25}]},
   "mark": {"type": "point", "shape": "M-1,-0.55L1,0L-1,0.55Z", "size": 484, "filled": true, "color": "black", "opacity": 1},
   "encoding": {"x": {"field": "x", "type": "quantitative", "scale": {"domain": [0.107, 0.187]}, "axis": null}, "y": {"field": "y", "type": "quantitative", "scale": {"domain": [-5e23, 9.7e25]}, "axis": null}}},
  {"data": {"values": [{"x": 0.1098, "y": 6.09e25, "t": "@170A/cm²"}]},
   "mark": {"type": "text", "align": "left", "baseline": "middle", "fontSize": 18, "fontWeight": "bold", "font": "DejaVu Sans", "color": "black"},
   "encoding": {"x": {"field": "x", "type": "quantitative", "scale": {"domain": [0.107, 0.187]}, "axis": null}, "y": {"field": "y", "type": "quantitative", "scale": {"domain": [-5e23, 9.7e25]}, "axis": null}, "text": {"field": "t"}}},
  {"data": {"values": [{"x": 0.15397, "y": 8.32e25, "t": "[0001]"}]},
   "mark": {"type": "text", "align": "left", "baseline": "middle", "fontSize": 19, "fontWeight": "bold", "font": "DejaVu Sans", "color": "black"},
   "encoding": {"x": {"field": "x", "type": "quantitative", "scale": {"domain": [0.107, 0.187]}, "axis": null}, "y": {"field": "y", "type": "quantitative", "scale": {"domain": [-5e23, 9.7e25]}, "axis": null}, "text": {"field": "t"}}},
  {"data": {"values": [{"x": 0.18008, "y": 9.09e25, "t": "c"}]},
   "mark": {"type": "text", "align": "left", "baseline": "middle", "fontSize": 40, "fontWeight": "bold", "font": "DejaVu Sans", "color": "black"},
   "encoding": {"x": {"field": "x", "type": "quantitative", "scale": {"domain": [0.107, 0.187]}, "axis": null}, "y": {"field": "y", "type": "quantitative", "scale": {"domain": [-5e23, 9.7e25]}, "axis": null}, "text": {"field": "t"}}},
  {"data": {"values": [{"x": 0.15, "y": 1e25}]},
   "mark": {"type": "point", "opacity": 0},
   "encoding": {
     "x": {"field": "x", "type": "quantitative", "scale": {"domain": [0.107, 0.187]},
       "axis": {"orient": "top", "values": [0.108,0.112,0.116,0.12,0.124,0.128,0.132,0.136,0.14,0.144,0.148,0.152,0.156,0.16,0.164,0.168,0.172,0.176,0.18,0.184], "labels": false, "tickSize": {"condition": {"test": "abs(datum.value*50 - round(datum.value*50)) < 0.01", "value": -10}, "value": -5}, "title": null}},
     "y": {"field": "y", "type": "quantitative", "scale": {"domain": [-5e23, 9.7e25]},
       "axis": {"orient": "right", "values": [0,5e24,1e25,1.5e25,2e25,2.5e25,3e25,3.5e25,4e25,4.5e25,5e25,5.5e25,6e25,6.5e25,7e25,7.5e25,8e25,8.5e25,9e25,9.5e25], "labels": false, "tickSize": {"condition": {"test": "abs(datum.value/2e25 - round(datum.value/2e25)) < 0.01", "value": -10}, "value": -5}, "title": null}}}}
 ],
 "resolve": {"axis": {"x": "independent", "y": "independent"}}
}
]
}
